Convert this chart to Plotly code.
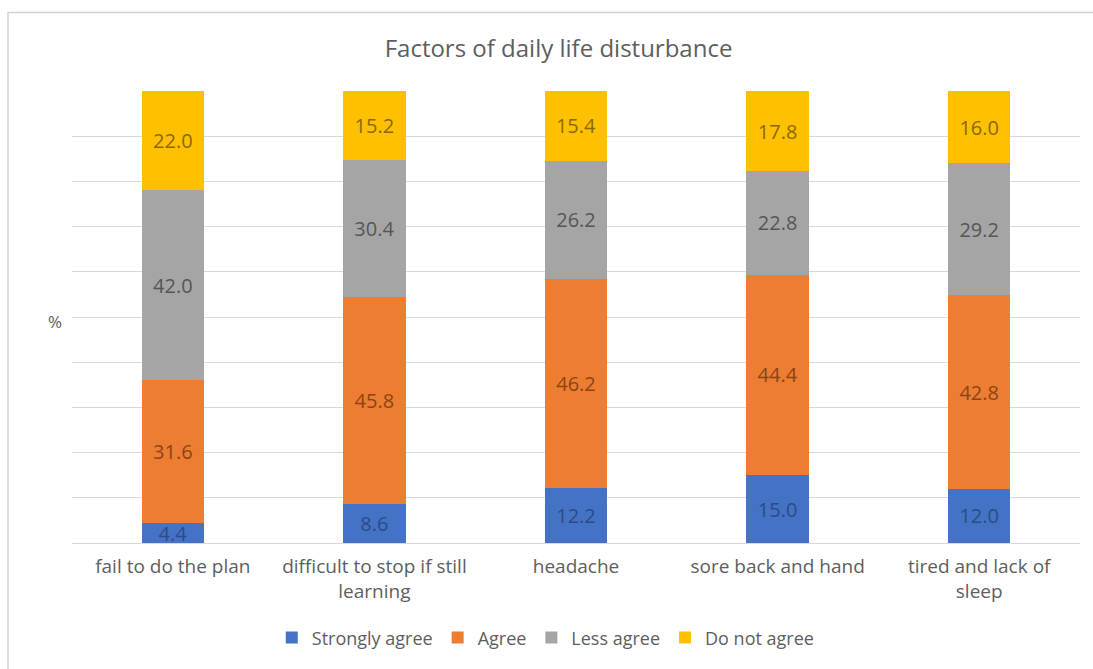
import plotly.graph_objects as go

# Survey results: share of respondents (%) per answer for each factor
categories = [
    "fail to do the plan",
    "difficult to stop if still<br>learning",
    "headache",
    "sore back and hand",
    "tired and lack of<br>sleep",
]
strongly_agree = [4.4, 8.6, 12.2, 15.0, 12.0]
agree = [31.6, 45.8, 46.2, 44.4, 42.8]
less_agree = [42.0, 30.4, 26.2, 22.8, 29.2]
do_not_agree = [22.0, 15.2, 15.4, 17.8, 16.0]

series_names = ["Strongly agree", "Agree", "Less agree", "Do not agree"]
series_values = [strongly_agree, agree, less_agree, do_not_agree]
fill_colors = ["#4472C4", "#ED7D31", "#A5A5A5", "#FFC000"]
label_colors = ["#2B4C88", "#8C4418", "#565656", "#8A6A08"]

FONT = "'Open Sans', Lato, sans-serif"
TEXT_GREY = "#5E5E5E"

fig = go.Figure()
for name, vals, fc, lc in zip(series_names, series_values, fill_colors, label_colors):
    fig.add_trace(
        go.Bar(
            name=name,
            x=categories,
            y=vals,
            marker=dict(color=fc, line=dict(width=0)),
            text=[f"{v:.1f}" for v in vals],
            textposition="inside",
            insidetextanchor="middle",
            constraintext="none",
            textfont=dict(family=FONT, size=20, color=lc),
            hoverinfo="skip",
        )
    )

fig.update_layout(
    width=1093,
    height=669,
    barmode="stack",
    bargap=0.69,
    paper_bgcolor="white",
    plot_bgcolor="white",
    margin=dict(l=72, r=13, t=91, b=126),
    font=dict(family=FONT, color=TEXT_GREY),
    title=dict(
        text="Factors of daily life disturbance",
        font=dict(family=FONT, size=24, color=TEXT_GREY),
        xref="container",
        x=0.511,
        xanchor="center",
        yref="container",
        y=1 - 49 / 669,
        yanchor="middle",
    ),
    uniformtext=dict(minsize=20, mode="show"),
    showlegend=True,
    legend=dict(
        orientation="h",
        traceorder="normal",
        x=0.47,
        xanchor="center",
        y=-0.21,
        yanchor="middle",
        font=dict(family=FONT, size=18, color=TEXT_GREY),
        itemwidth=30,
        tracegroupgap=0,
    ),
    xaxis=dict(
        showline=False,
        ticks="",
        tickfont=dict(family=FONT, size=19, color=TEXT_GREY),
        ticklabelstandoff=10,
        showgrid=False,
    ),
    yaxis=dict(
        range=[0, 100],
        dtick=10,
        showticklabels=False,
        showgrid=True,
        gridcolor="#D9D9D9",
        gridwidth=1,
        zeroline=True,
        zerolinecolor="#D9D9D9",
        zerolinewidth=1,
    ),
    annotations=[
        dict(
            text="%",
            xref="paper",
            yref="paper",
            x=-0.017,
            y=0.49,
            xanchor="center",
            yanchor="middle",
            showarrow=False,
            font=dict(family=FONT, size=17, color=TEXT_GREY),
        )
    ],
    shapes=[
        # chart-area frame (top and left edges visible)
        dict(
            type="rect",
            xref="paper",
            yref="paper",
            x0=(8 - 72) / 1008,
            x1=(1100 - 72) / 1008,
            y0=(543 - 680) / 452,
            y1=(543 - 12.5) / 452,
            line=dict(color="#D4D4D4", width=1.5),
            fillcolor="rgba(0,0,0,0)",
            layer="below",
        )
    ],
)

fig.write_html("out.html")
